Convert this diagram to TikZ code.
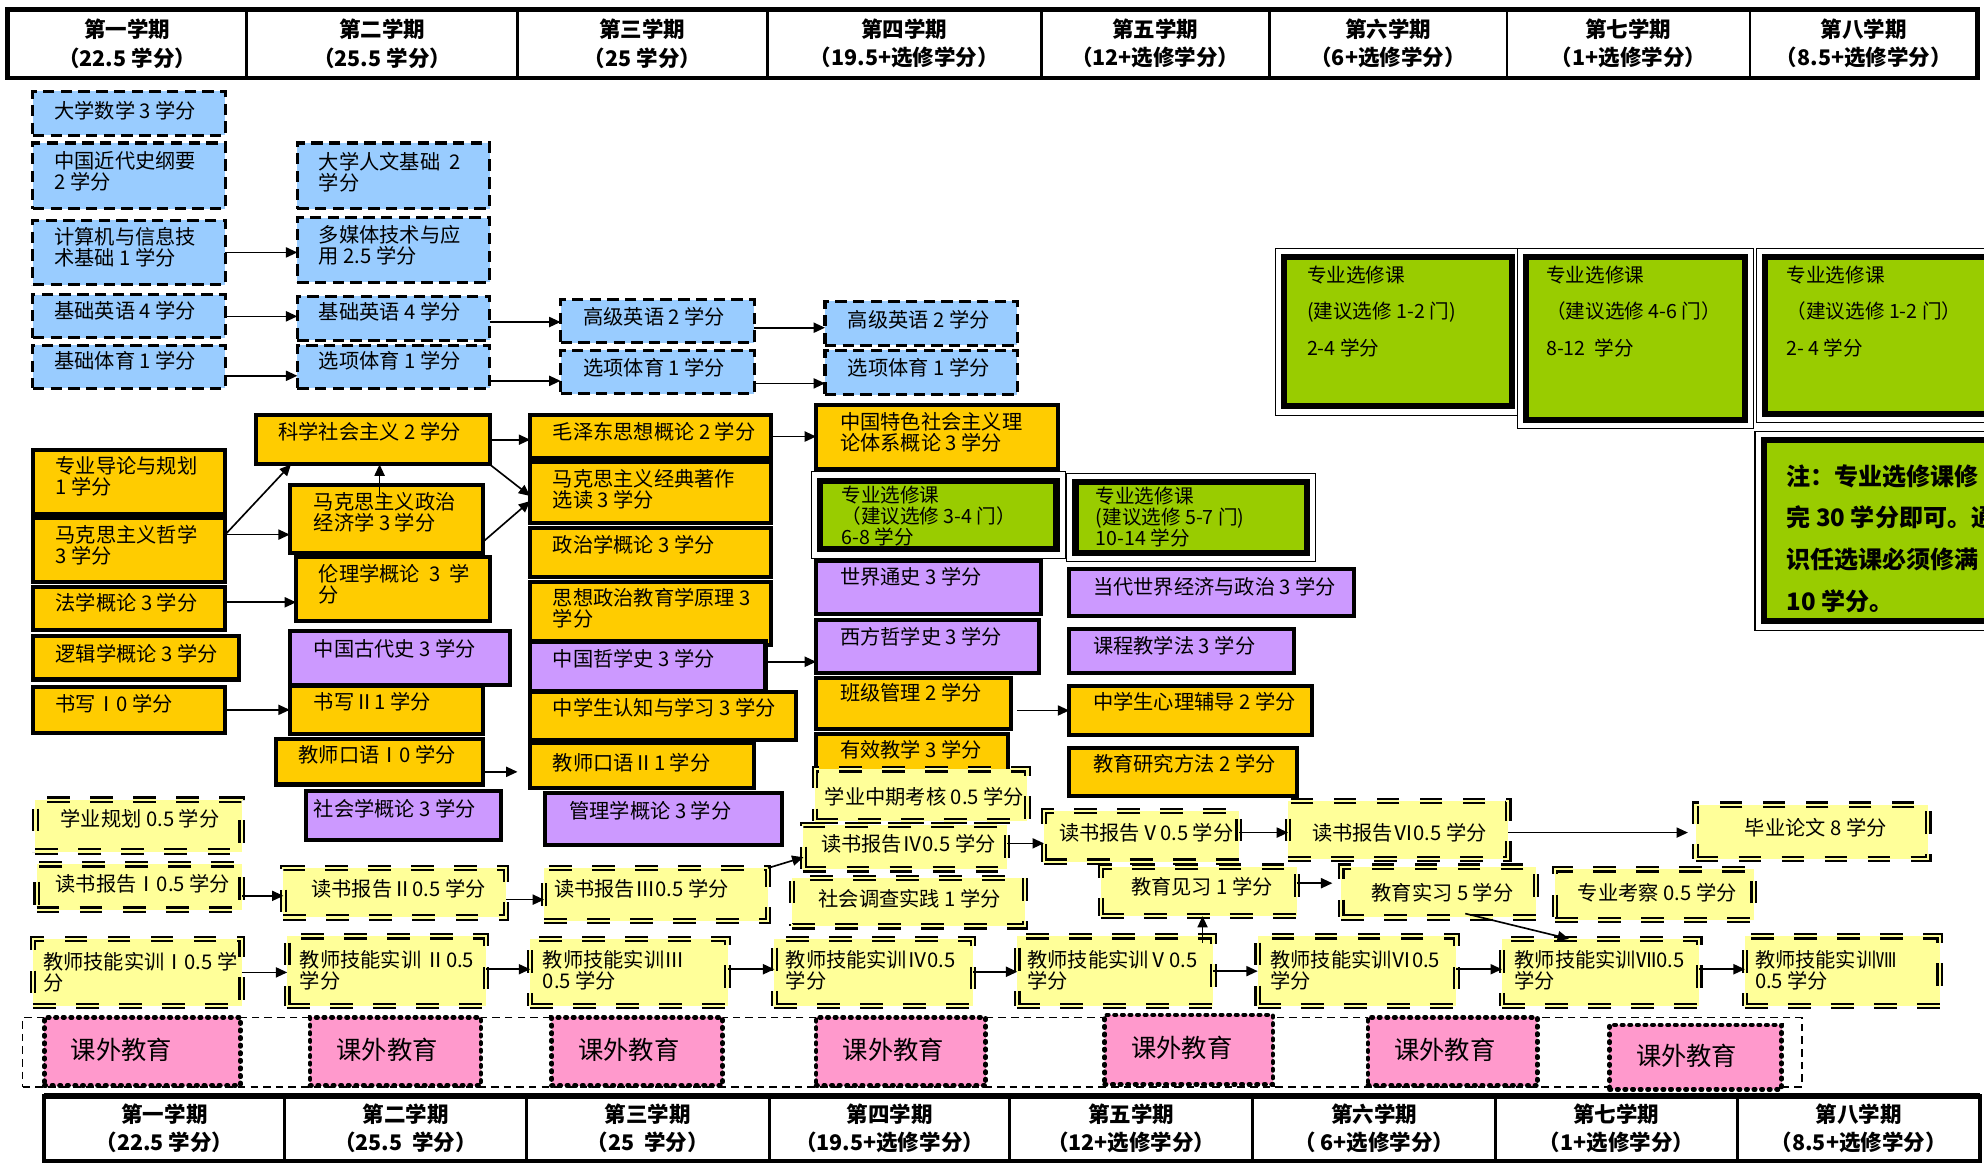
\documentclass[tikz,border=0pt]{standalone}
\usepackage{fontspec}
\setmainfont{Noto Sans CJK SC}
\usetikzlibrary{arrows.meta,calc}
\definecolor{cblue}{HTML}{99CCFF}
\definecolor{corange}{HTML}{FFCC00}
\definecolor{cpurple}{HTML}{CC99FF}
\definecolor{cgreen}{HTML}{99CC00}
\definecolor{cyellow}{HTML}{FFFF99}
\definecolor{cpink}{HTML}{FF99CC}
\tikzset{
  box/.style={rectangle, inner sep=0pt, outer sep=0pt},
  bluebox/.style={box, fill=cblue, draw, line width=2.4pt, dash pattern=on 9pt off 5pt},
  orbox/.style={box, fill=corange, draw, line width=3.2pt},
  pubox/.style={box, fill=cpurple, draw, line width=3.2pt},
  yebox/.style={box, fill=cyellow, draw, line width=1.7pt, double=cyellow, double distance=1.8pt, dash pattern=on 18pt off 16pt},
  gout/.style={box, draw, line width=0.8pt, fill=white},
  gin/.style={box, draw, line width=5pt, fill=cgreen},
  pinkbox/.style={box, fill=cpink, draw, line width=3.6pt, dash pattern=on 1.2pt off 4.8pt, line cap=round},
  kwbox/.style={box, draw, line width=1.1pt, dash pattern=on 6pt off 4pt},
  hcell/.style={box, draw, line width=2.2pt, align=center, font=\bfseries\fontsize{17}{22.4}\selectfont},
  txt/.style={inner sep=0pt, outer sep=0pt, align=left, font=\fontsize{16}{16.6}\selectfont},
  pinktxt/.style={inner sep=0pt, outer sep=0pt, font=\fontsize{20}{24}\selectfont},
  arr/.style={-{Triangle[length=9pt,width=8pt]}, line width=1.3pt},
}
% style, name, x1, y1, x2, y2, padx, pady, text
\newcommand\cb[9]{%
  \node[#1, anchor=north west, minimum width={(#5-#3)*1pt}, minimum height={(#6-#4)*1pt}] (#2) at (#3,#4) {};
  \node[txt, anchor=north west] (#2t) at ([xshift=#7pt,yshift=-#8pt]#2.north west) {#9};
}
% name, x1, y1, x2, y2, padx, pady, font, text
\newcommand\gb[9]{%
  \node[gout, anchor=north west, minimum width={(#4-#2)*1pt}, minimum height={(#5-#3)*1pt}] (#1o) at (#2,#3) {};
  \node[gin, minimum width={(#4-#2-14)*1pt}, minimum height={(#5-#3-14)*1pt}] (#1) at (#1o.center) {};
  \node[inner sep=0pt, outer sep=0pt, align=left, anchor=north west, font=#8] (#1t) at ([xshift=#6pt,yshift=-#7pt]#1o.north west) {#9};
}
\newcommand\pk[5]{%
  \node[pinkbox, anchor=north west, minimum width={(#4-#2)*1pt}, minimum height={(#5-#3)*1pt}] (#1) at (#2,#3) {};
  \node[pinktxt, anchor=west] (#1t) at ([xshift=21pt,yshift=1pt]#1.west) {课外教育};
}
\newcommand\hc[6]{%
  \node[hcell, anchor=north west, minimum width={(#3-#2)*1pt}, minimum height={(#5-#4)*1pt}] (#1) at (#2,#4) {#6};
}
\newcommand\har[4]{%
  \coordinate (#1) at ([yshift=#4pt]#2.east);
  \draw[arr] (#1) -- (#1 -| #3.west);
}
\begin{document}
\begin{tikzpicture}[x=1pt,y=-1pt]
\useasboundingbox (0,0) rectangle (1568,919);
\fill[white] (0,0) rectangle (1568,919);
\clip (0,0) rectangle (1568,919);

% ---------- top header ----------
\hc{h1}{6}{195}{7.5}{61.5}{第一学期\\（22.5 学分）}
\hc{h2}{195}{409}{7.5}{61.5}{第二学期\\（25.5 学分）}
\hc{h3}{409}{606.5}{7.5}{61.5}{第三学期\\（25 学分）}
\hc{h4}{606.5}{823}{7.5}{61.5}{第四学期\\（19.5+选修学分）}
\hc{h5}{823}{1003}{7.5}{61.5}{第五学期\\（12+选修学分）}
\hc{h6}{1003}{1191}{7.5}{61.5}{第六学期\\（6+选修学分）}
\hc{h7}{1191}{1383}{7.5}{61.5}{第七学期\\（1+选修学分）}
\hc{h8}{1383}{1563}{7.5}{61.5}{第八学期\\（8.5+选修学分）}
\draw[line width=3.6pt] (h1.north west) rectangle (h8.south east);

% ---------- blue ----------
\cb{bluebox}{dxsx}{26}{72}{178}{107}{17}{8}{大学数学 3 学分}
\cb{bluebox}{jds}{26}{113}{178}{165}{17}{7}{中国近代史纲要\\2 学分}
\cb{bluebox}{jsj}{26}{174}{178}{225}{17}{6}{计算机与信息技\\术基础 1 学分}
\cb{bluebox}{jcyy1}{26}{233}{178}{267}{17}{5}{基础英语 4 学分}
\cb{bluebox}{jcty}{26}{273}{178}{307}{17}{5}{基础体育 1 学分}
\cb{bluebox}{rwjc}{235}{113}{387}{165}{17}{7}{大学人文基础\ \ 2\\学分}
\cb{bluebox}{dmt}{235}{172}{387}{223}{17}{6}{多媒体技术与应\\用 2.5 学分}
\cb{bluebox}{jcyy2}{235}{234}{387}{269}{17}{5}{基础英语 4 学分}
\cb{bluebox}{xxty2}{235}{273}{387}{307}{17}{5}{选项体育 1 学分}
\cb{bluebox}{gjyy3}{443}{237}{596}{271}{18}{6}{高级英语 2 学分}
\cb{bluebox}{xxty3}{443}{277}{596}{311}{18}{6}{选项体育 1 学分}
\cb{bluebox}{gjyy4}{652}{238}{804}{273}{18}{7}{高级英语 2 学分}
\cb{bluebox}{xxty4}{652}{277}{804}{312}{18}{6}{选项体育 1 学分}

% ---------- column 1 ----------
\cb{orbox}{zydl}{26}{356}{178}{406}{18}{5}{专业导论与规划\\1 学分}
\cb{orbox}{mkzx}{26}{409}{178}{460}{18}{6}{马克思主义哲学\\3 学分}
\cb{orbox}{fxgl}{26}{464}{178}{498}{18}{5}{法学概论 3 学分}
\cb{orbox}{ljx}{26}{503}{189}{537}{18}{6}{逻辑学概论 3 学分}
\cb{orbox}{sx1}{26}{543}{178}{579}{18}{6}{书写Ⅰ0 学分}
% ---------- column 2 ----------
\cb{orbox}{kxsh}{202}{328}{387}{367}{18}{6}{科学社会主义 2 学分}
\cb{orbox}{zzjj}{229}{383}{382}{437}{19}{6}{马克思主义政治\\经济学 3 学分}
\cb{orbox}{llx}{234}{440}{387}{491}{18}{6}{伦理学概论\ \ 3\ \ 学\\分}
\cb{pubox}{gds}{229}{499}{403}{541}{19}{6}{中国古代史 3 学分}
\cb{orbox}{sx2}{229}{542}{382}{580}{19}{5}{书写Ⅱ1 学分}
\cb{orbox}{ky1}{218}{584}{382}{620}{18}{5}{教师口语Ⅰ0 学分}
\cb{pubox}{shx}{242}{625}{396}{664}{6}{7}{社会学概论 3 学分}
% ---------- column 3 ----------
\cb{orbox}{mzd}{419}{328}{609}{362}{18}{6}{毛泽东思想概论 2 学分}
\cb{orbox}{jdzz}{419}{365}{609}{413}{18}{6}{马克思主义经典著作\\选读 3 学分}
\cb{orbox}{zzx}{419}{417}{609}{456}{18}{6}{政治学概论 3 学分}
\cb{orbox}{sxzz}{419}{460}{609}{510}{18}{5}{思想政治教育学原理 3\\学分}
\cb{pubox}{zgzx}{419}{507}{605}{546}{18}{6}{中国哲学史 3 学分}
\cb{orbox}{zxsrz}{419}{547}{629}{585}{18}{5}{中学生认知与学习 3 学分}
\cb{orbox}{ky2}{419}{587}{596}{623}{18}{8}{教师口语Ⅱ1 学分}
\cb{pubox}{glx}{431}{627}{618}{668}{19}{6}{管理学概论 3 学分}
% ---------- column 4 ----------
\cb{orbox}{zgts}{645}{320}{836}{371}{19}{6}{中国特色社会主义理\\论体系概论 3 学分}
\gb{gs4}{641}{373}{842}{441}{24}{11}{\fontsize{15.5}{16.6}\selectfont}{专业选修课\\（建议选修 3-4 门）\\6-8 学分}
\cb{pubox}{sjts}{645}{443}{823}{485}{19}{5}{世界通史 3 学分}
\cb{pubox}{xfzx}{645}{490}{821}{532}{19}{6}{西方哲学史 3 学分}
\cb{orbox}{bjgl}{645}{536}{799}{576}{19}{4}{班级管理 2 学分}
\cb{orbox}{yxjx}{645}{580}{797}{612}{19}{5}{有效教学 3 学分}
% ---------- column 5 ----------
\gb{gs5}{843}{374}{1040}{444}{23}{11}{\fontsize{15.5}{16.6}\selectfont}{专业选修课\\(建议选修 5-7 门)\\10-14 学分}
\cb{pubox}{ddsj}{845}{450}{1070}{487}{19}{6}{当代世界经济与政治 3 学分}
\cb{pubox}{kcjx}{845}{497}{1023}{532}{19}{6}{课程教学法 3 学分}
\cb{orbox}{xlfd}{845}{542}{1037}{581}{19}{5}{中学生心理辅导 2 学分}
\cb{orbox}{yjff}{845}{591}{1025}{629}{19}{5}{教育研究方法 2 学分}

% ---------- big green ----------
\gb{gb1}{1008}{196}{1202}{328}{25}{14}{\fontsize{15.5}{29}\selectfont}{专业选修课\\(建议选修 1-2 门)\\2-4 学分}
\gb{gb2}{1199}{196}{1386}{339}{23}{14}{\fontsize{15.5}{29}\selectfont}{专业选修课\\（建议选修 4-6 门）\\8-12\ \ 学分}
\gb{gb3}{1388}{196}{1590}{334}{24}{14}{\fontsize{15.5}{29}\selectfont}{专业选修课\\（建议选修 1-2 门）\\2- 4 学分}
\gb{note}{1387}{341}{1590}{498}{25}{26}{\bfseries\fontsize{19}{32.9}\selectfont}{注：专业选修课修\\完 30 学分即可。通\\识任选课必须修满\\10 学分。}

% ---------- yellow ----------
\cb{yebox}{xygh}{28}{632}{191}{673}{20}{8}{学业规划 0.5 学分}
\cb{yebox}{ds1}{29}{683}{191}{719}{15}{8}{读书报告Ⅰ0.5 学分}
\cb{yebox}{jn1}{26}{742}{191}{795}{8}{11}{教师技能实训Ⅰ0.5 学\\分}
\cb{yebox}{ds2}{224}{686}{400}{725}{22}{9}{读书报告Ⅱ0.5 学分}
\cb{yebox}{jn2}{227}{740}{384}{795}{10}{11}{教师技能实训 Ⅱ0.5\\学分}
\cb{yebox}{ds3}{430}{686}{607}{728}{8}{9}{读书报告Ⅲ0.5 学分}
\cb{yebox}{jn3}{419}{742}{575}{795}{10}{9}{教师技能实训Ⅲ\\0.5 学分}
\cb{yebox}{zqkh}{644}{608}{812}{649}{8}{14}{学业中期考核 0.5 学分}
\cb{yebox}{ds4}{635}{652}{796}{687}{14}{7}{读书报告Ⅳ0.5 学分}
\cb{yebox}{shdc}{626}{694}{810}{732}{21}{9}{社会调查实践 1 学分}
\cb{yebox}{jn4}{612}{742}{769}{795}{9}{9}{教师技能实训Ⅳ0.5\\学分}
\cb{yebox}{ds5}{825}{641}{979}{681}{12}{10}{读书报告Ⅴ0.5 学分}
\cb{yebox}{ds6}{1018}{633}{1192}{679}{19}{18}{读书报告Ⅵ0.5 学分}
\cb{yebox}{bylw}{1340}{636}{1524}{679}{39}{11}{毕业论文 8 学分}
\cb{yebox}{jyjx}{870}{685}{1025}{724}{24}{8}{教育见习 1 学分}
\cb{yebox}{jysx}{1060}{685}{1214}{725}{24}{13}{教育实习 5 学分}
\cb{yebox}{zykc}{1229}{687}{1386}{727}{18}{11}{专业考察 0.5 学分}
\cb{yebox}{jn5}{804}{740}{959}{795}{8}{11}{教师技能实训Ⅴ0.5\\学分}
\cb{yebox}{jn6}{994}{740}{1151}{795}{10}{11}{教师技能实训Ⅵ0.5\\学分}
\cb{yebox}{jn7}{1187}{742}{1343}{795}{10}{9}{教师技能实训Ⅶ0.5\\学分}
\cb{yebox}{jn8}{1379}{740}{1533}{795}{8}{11}{教师技能实训Ⅷ\\0.5 学分}

% ---------- extracurricular ----------
\node[kwbox, anchor=north west, minimum width=1406pt, minimum height=55pt] (kw) at (18,804) {};
\pk{k1}{35}{804}{190}{858}
\pk{k2}{245}{804}{380}{858}
\pk{k3}{436}{804}{571}{858}
\pk{k4}{645}{804}{779}{858}
\pk{k5}{873}{802}{1006}{857}
\pk{k6}{1081}{804}{1215}{858}
\pk{k7}{1272}{810}{1408}{861}

% ---------- bottom header ----------
\hc{f1}{35}{225}{866}{917.5}{第一学期\\（22.5 学分）}
\hc{f2}{225}{416}{866}{917.5}{第二学期\\（25.5\ \ 学分）}
\hc{f3}{416}{608}{866}{917.5}{第三学期\\（25\ \ 学分）}
\hc{f4}{608}{798}{866}{917.5}{第四学期\\（19.5+选修学分）}
\hc{f5}{798}{990}{866}{917.5}{第五学期\\（12+选修学分）}
\hc{f6}{990}{1182}{866}{917.5}{第六学期\\（\ 6+选修学分）}
\hc{f7}{1182}{1373}{866}{917.5}{第七学期\\（1+选修学分）}
\hc{f8}{1373}{1565}{866}{917.5}{第八学期\\（8.5+选修学分）}
\draw[line width=3pt] (f1.north west) rectangle (f8.south east);
\draw[line width=5pt] (f1.north west) -- (f8.north east);

% ---------- arrows ----------
\har{a1}{jsj}{dmt}{0}
\har{a2}{jcyy1}{jcyy2}{0}
\har{a3}{jcty}{xxty2}{-7}
\har{a4}{jcyy2}{gjyy3}{-3}
\har{a5}{xxty2}{xxty3}{-11}
\har{a6}{gjyy3}{gjyy4}{-5}
\har{a7}{xxty3}{xxty4}{-9}
\coordinate (a8) at ([yshift=12pt]mkzx.east);
\draw[arr] (a8) -- ([xshift=28pt]kxsh.south west);
\draw[arr] (a8) -- (a8 -| zzjj.west);
\coordinate (a10) at ([xshift=71pt,yshift=-9pt]zzjj.north west);
\draw[arr] (a10) -- (a10 |- kxsh.south);
\har{a11}{kxsh}{mzd}{0}
\draw[arr] (kxsh.south east) -- ([yshift=-3pt]jdzz.west);
\draw[arr] ([yshift=-18pt]zzjj.east) -- ([yshift=-7pt]jdzz.west);
\har{a14}{fxgl}{llx}{5}
\har{a15}{sx1}{sx2}{0}
\coordinate (a16) at ([xshift=-10pt,yshift=-5pt]ky2.west);
\draw[arr] (a16 -| ky1.east) -- (a16);
\har{a17}{mzd}{zgts}{0}
\har{a18}{zgzx}{xfzx}{3.5}
\draw[arr] ($(xlfd.west -| bjgl.east)+(5,0)$) -- (xlfd.west);
\har{a20}{ds1}{ds2}{-7}
\har{a21}{ds2}{ds3}{-5.5}
\draw[arr] (ds3.north east) -- ([yshift=-8pt]ds4.west);
\har{a23}{ds4}{ds5}{3}
\har{a24}{ds5}{ds6}{3}
\coordinate (a25) at ([yshift=-2pt]ds6.east);
\draw[arr] (a25) -- ($(a25 -| bylw.west)+(-6,0)$);
\coordinate (a26) at ([yshift=6.5pt]jyjx.east);
\draw[arr] (a26) -- ($(a26 -| jysx.west)+(-7,0)$);
\draw[arr] ([xshift=21pt,yshift=3pt]jysx.south) -- ([xshift=-25pt]jn7.north);
\coordinate (a28) at ([xshift=-8.6pt,yshift=-5pt]jn5.north east);
\draw[arr] (a28) -- (a28 |- jyjx.south);
\har{s1}{jn1}{jn2}{0}
\har{s2}{jn2}{jn3}{1.5}
\har{s3}{jn3}{jn4}{2.5}
\har{s4}{jn4}{jn5}{0.5}
\har{s5}{jn5}{jn6}{0}
\har{s6}{jn6}{jn7}{1.5}
\har{s7}{jn7}{jn8}{2.5}
\end{tikzpicture}
\end{document}
